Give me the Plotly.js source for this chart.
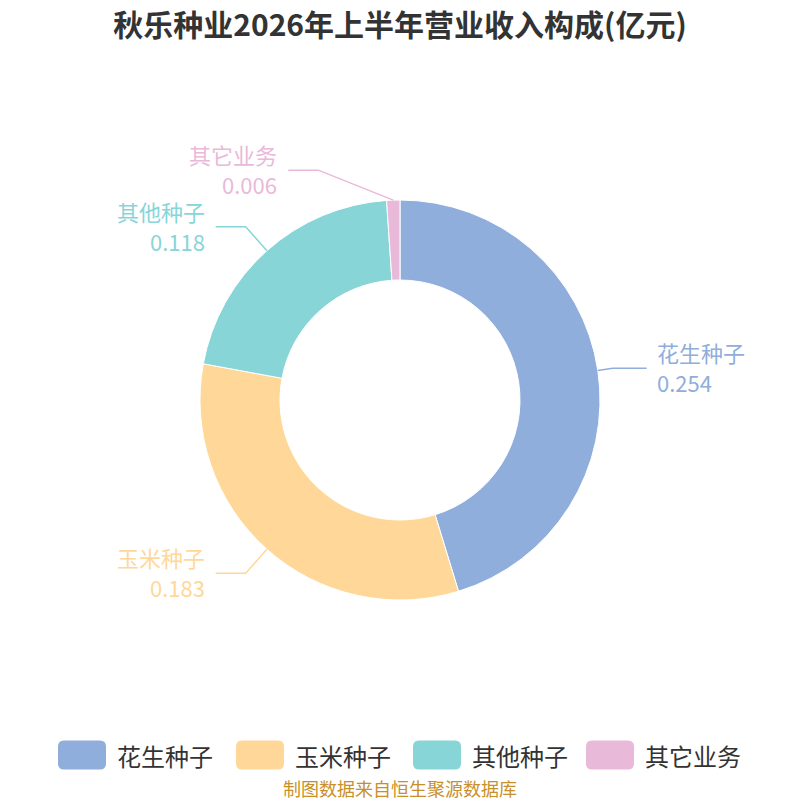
<!DOCTYPE html>
<html>
<head>
<meta charset="utf-8">
<script src="https://cdn.plot.ly/plotly-3.0.1.min.js"></script>
<style>
  html, body { margin: 0; padding: 0; background: #fff; }
  #plot { width: 800px; height: 800px; }
</style>
</head>
<body>
<div id="plot"></div>
<script>
// data
var labels = ['花生种子', '玉米种子', '其他种子', '其它业务'];
var values = [0.254, 0.183, 0.118, 0.006];
var colors = ['#8FAEDB', '#FFD899', '#88D5D8', '#E9B9D9'];
var titleText = '秋乐种业2026年上半年营业收入构成(亿元)';
var sourceText = '制图数据来自恒生聚源数据库';

// label layout tweaks (radial leader length, extra horizontal shift of elbow)
var lead1 = [15, 32, 32, 30];
var elbowShift = [0, 0, 0, -74];

var W = 800, H = 800;
var cx = 400, cy = 400, R = 200;
var FONT = '"Noto Sans CJK SC", "Noto Sans", sans-serif';

function px(x) { return x / W; }
function py(y) { return 1 - y / H; }

var total = values.reduce(function (a, b) { return a + b; }, 0);
var shapes = [];
var annotations = [];

var cum = 0;
for (var i = 0; i < values.length; i += 1) {
  var mid = (cum + values[i] / 2) / total * 2 * Math.PI;
  cum += values[i];
  var sx = Math.sin(mid), sy = -Math.cos(mid);
  var x0 = cx + R * sx, y0 = cy + R * sy;
  var x1 = cx + (R + lead1[i]) * sx + elbowShift[i], y1 = cy + (R + lead1[i]) * sy;
  var right = sx > 0;
  var x2 = right ? x1 + 34 : x1 - 30;
  var tx = right ? x2 + 9 : x2 - 10;

  shapes.push({
    type: 'path', xref: 'paper', yref: 'paper',
    path: 'M' + px(x0) + ',' + py(y0) + ' L' + px(x1) + ',' + py(y1) + ' L' + px(x2) + ',' + py(y1),
    line: { color: colors[i], width: 1.5 }
  });
  annotations.push({
    xref: 'paper', yref: 'paper', x: px(tx), y: py(y1 - 16),
    xanchor: right ? 'left' : 'right', yanchor: 'middle',
    text: labels[i], showarrow: false, borderpad: 0,
    font: { family: FONT, size: 22, color: colors[i] }
  });
  annotations.push({
    xref: 'paper', yref: 'paper', x: px(tx), y: py(y1 + 14),
    xanchor: right ? 'left' : 'right', yanchor: 'middle',
    text: values[i].toFixed(3), showarrow: false, borderpad: 0,
    font: { family: FONT, size: 22, color: colors[i] }
  });
}

// custom legend with rounded swatches
var legX = [58, 236, 413, 586];
var legY = 755, sw = 48, sh = 29, rr = 6;
for (var j = 0; j < labels.length; j += 1) {
  var l = legX[j], r = l + sw, t = legY - sh / 2, b = legY + sh / 2;
  var p = 'M' + px(l + rr) + ',' + py(t) +
    ' L' + px(r - rr) + ',' + py(t) + ' Q' + px(r) + ',' + py(t) + ' ' + px(r) + ',' + py(t + rr) +
    ' L' + px(r) + ',' + py(b - rr) + ' Q' + px(r) + ',' + py(b) + ' ' + px(r - rr) + ',' + py(b) +
    ' L' + px(l + rr) + ',' + py(b) + ' Q' + px(l) + ',' + py(b) + ' ' + px(l) + ',' + py(b - rr) +
    ' L' + px(l) + ',' + py(t + rr) + ' Q' + px(l) + ',' + py(t) + ' ' + px(l + rr) + ',' + py(t) + ' Z';
  shapes.push({
    type: 'path', xref: 'paper', yref: 'paper', path: p,
    fillcolor: colors[j], line: { width: 0 }
  });
  annotations.push({
    xref: 'paper', yref: 'paper', x: px(r + 9), y: py(legY),
    xanchor: 'left', yanchor: 'middle', text: labels[j], showarrow: false,
    font: { family: FONT, size: 24, color: '#333333' }
  });
}

annotations.push({
  xref: 'paper', yref: 'paper', x: 0.5, y: py(788),
  xanchor: 'center', yanchor: 'middle', text: sourceText, showarrow: false,
  font: { family: FONT, size: 18, color: '#C8902A' }
});

var trace = {
  type: 'pie',
  labels: labels,
  values: values,
  sort: false,
  direction: 'clockwise',
  rotation: 0,
  hole: 0.6,
  textinfo: 'none',
  marker: { colors: colors, line: { color: '#ffffff', width: 1 } },
  domain: { x: [0.25, 0.75], y: [0.25, 0.75] },
  showlegend: false
};

var layout = {
  width: W, height: H,
  margin: { l: 0, r: 0, t: 0, b: 0 },
  paper_bgcolor: '#ffffff',
  title: {
    text: '<b>' + titleText + '</b>',
    x: 0.5, xanchor: 'center', y: py(25), yanchor: 'middle', yref: 'paper',
    font: { family: FONT, size: 30, color: '#333333' }
  },
  shapes: shapes,
  annotations: annotations,
  showlegend: false
};

Plotly.newPlot('plot', [trace], layout, { displayModeBar: false, staticPlot: true });
</script>
</body>
</html>
